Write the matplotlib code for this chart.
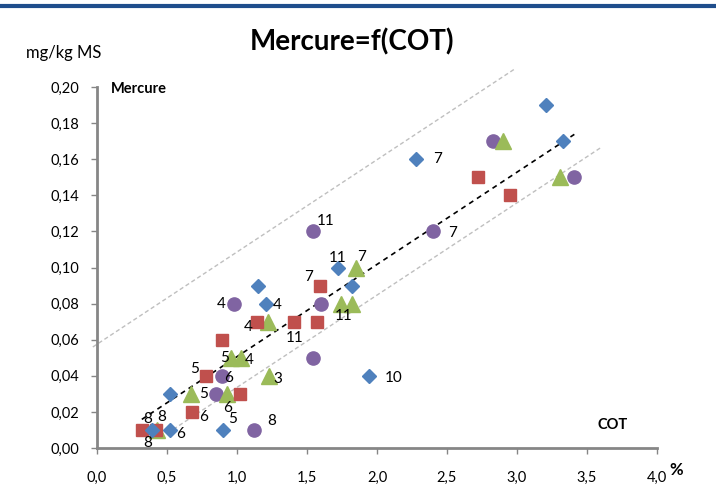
import matplotlib
matplotlib.use("Agg")
import matplotlib.pyplot as plt
from matplotlib.lines import Line2D
from matplotlib.ticker import FuncFormatter

plt.rcParams['font.family'] = ['Lato', 'DejaVu Sans']

# teneur en mercure (mg/kg MS) selon le COT (%)
blue_x = [3.21, 3.33, 2.28, 1.72, 1.82, 1.15, 1.21, 1.94, 0.52, 0.52, 0.39, 0.90]
blue_y = [0.19, 0.17, 0.16, 0.10, 0.09, 0.09, 0.08, 0.04, 0.03, 0.01, 0.01, 0.01]
red_x = [2.72, 2.95, 1.59, 1.14, 1.41, 1.57, 0.89, 0.78, 1.02, 0.68, 0.32, 0.42]
red_y = [0.15, 0.14, 0.09, 0.07, 0.07, 0.07, 0.06, 0.04, 0.03, 0.02, 0.01, 0.01]
green_x = [2.90, 3.31, 1.85, 1.74, 1.82, 1.22, 0.96, 1.03, 1.23, 0.67, 0.93, 0.43]
green_y = [0.17, 0.15, 0.10, 0.08, 0.08, 0.07, 0.05, 0.05, 0.04, 0.03, 0.03, 0.01]
purple_x = [2.83, 3.41, 2.40, 1.54, 1.60, 0.98, 1.54, 0.89, 0.85, 1.12]
purple_y = [0.17, 0.15, 0.12, 0.12, 0.08, 0.08, 0.05, 0.04, 0.03, 0.01]

# numeros de station
lab_text = ['7', '11', '7', '11', '7', '7', '4', '4', '11', '4', '11', '5', '4',
            '5', '6', '3', '10', '5', '6', '6', '5', '8', '8', '8', '6', '8']
lab_x = [2.43, 1.63, 2.54, 1.72, 1.89, 1.51, 0.89, 1.29, 1.76, 1.08, 1.41, 0.91, 1.09,
         0.70, 0.94, 1.29, 2.12, 0.76, 0.93, 0.76, 0.97, 1.25, 0.36, 0.46, 0.60, 0.36]
lab_y = [0.160, 0.126, 0.119, 0.105, 0.106, 0.095, 0.080, 0.079, 0.073, 0.067, 0.061,
         0.050, 0.049, 0.044, 0.039, 0.038, 0.039, 0.030, 0.022, 0.017, 0.016, 0.015,
         0.016, 0.017, 0.008, 0.003]

# droite de tendance et enveloppe
slope = 0.0511
intercept = -0.0005
trend_range = (0.32, 3.41)
upper_offset = 0.058
upper_range = (-0.03, 2.98)
lower_offset = -0.017
lower_range = (0.545, 3.605)

fig = plt.figure(figsize=(7.16, 4.92), dpi=100)
ax = fig.add_axes([0.1355, 0.0894, 0.782, 0.7338])

gray = '#868686'


def droite(rng, offset):
    xs = list(rng)
    ys = [slope * x + intercept + offset for x in xs]
    return xs, ys


xs, ys = droite(upper_range, upper_offset)
ax.plot(xs, ys, color='#BFBFBF', lw=1.0, ls=(0, (3, 2)), zorder=1, clip_on=False)
xs, ys = droite(lower_range, lower_offset)
ax.plot(xs, ys, color='#BFBFBF', lw=1.0, ls=(0, (3, 2)), zorder=1)
xs, ys = droite(trend_range, 0)
ax.plot(xs, ys, color='black', lw=1.2, ls=(0, (3, 2.6)), zorder=1)

ax.plot(purple_x, purple_y, 'o', color='#8064A2', ms=9.5, mec='#8064A2', zorder=2)
ax.plot(green_x, green_y, '^', color='#9BBB59', ms=11, mec='#9BBB59', zorder=3)
ax.plot(red_x, red_y, 's', color='#C0504D', ms=9, mec='#C0504D', zorder=4)
ax.plot(blue_x, blue_y, 'D', color='#4F81BD', ms=7.5, mec='#4F81BD', zorder=5)

for t, x, y in zip(lab_text, lab_x, lab_y):
    ax.text(x, y, t, fontsize=11, ha='center', va='center', zorder=6)

ax.set_xlim(0, 4)
ax.set_ylim(0, 0.20)
ax.set_xticks([i * 0.5 for i in range(9)])
ax.set_yticks([i * 0.02 for i in range(11)])
ax.xaxis.set_major_formatter(FuncFormatter(lambda v, p: f'{v:.1f}'.replace('.', ',')))
ax.yaxis.set_major_formatter(FuncFormatter(lambda v, p: f'{v:.2f}'.replace('.', ',')))
ax.tick_params(axis='y', direction='out', length=4.5, width=1, color=gray,
               labelsize=10.5, pad=8)
ax.tick_params(axis='x', direction='out', length=4.5, width=1, color=gray,
               labelsize=10.5, pad=12)

for side in ['top', 'right']:
    ax.spines[side].set_visible(False)
for side in ['left', 'bottom']:
    ax.spines[side].set_color(gray)
    ax.spines[side].set_linewidth(2)

ax.text(0.025, 0.995, 'Mercure', transform=ax.transAxes, fontsize=10.5,
        fontweight='bold', ha='left', va='center')
ax.text(0.92, 0.064, 'COT', transform=ax.transAxes, fontsize=10.5,
        fontweight='bold', ha='center', va='center')
# unite de l'axe x, collee au dernier libelle
ax.annotate('%', xy=(4.0, 0), xycoords='data', xytext=(14, -16),
            textcoords='offset points', fontsize=12, fontweight='bold',
            ha='center', va='center', annotation_clip=False)

fig.text(0.492, 0.915, 'Mercure=f(COT)', fontsize=20, fontweight='bold',
         ha='center', va='center')
fig.text(0.036, 0.892, 'mg/kg MS', fontsize=12, ha='left', va='center')

# bandeau bleu en haut
fig.add_artist(Line2D([0, 1], [0.988, 0.988], transform=fig.transFigure,
                      color='#1F4E8C', lw=3))

fig.savefig('out.png', dpi=100)
